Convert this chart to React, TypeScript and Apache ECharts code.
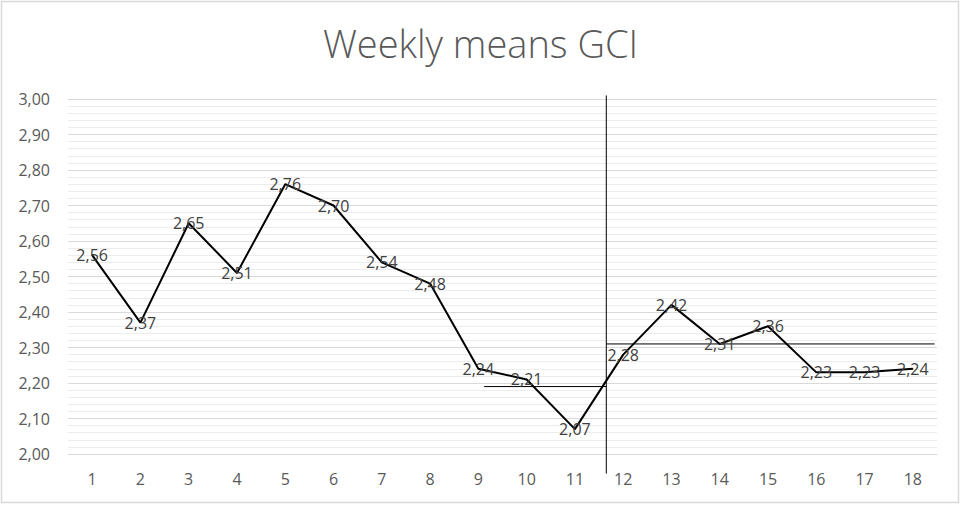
import React, { useEffect, useRef } from "react";
import * as echarts from "echarts";

const weeks = ["1","2","3","4","5","6","7","8","9","10","11","12","13","14","15","16","17","18"];
const gci = [2.56, 2.37, 2.65, 2.51, 2.76, 2.70, 2.54, 2.48, 2.24, 2.21, 2.07, 2.28, 2.42, 2.31, 2.36, 2.23, 2.23, 2.24];
// reference lines in week coordinates
const lowMeanLine: [number, number][] = [[9.12, 2.19], [11.65, 2.19]];
const highMeanLine: [number, number][] = [[11.65, 2.31], [18.45, 2.31]];
const breakLine: [number, number][] = [[11.65, 3.01], [11.65, 1.945]];

const fmt = (v: number) => v.toFixed(2).replace(".", ",");

export default function App() {
  const ref = useRef<HTMLDivElement>(null);
  useEffect(() => {
    document.body.style.margin = "0";
    const chart = echarts.init(ref.current!, null, { renderer: "svg" });
    const font = "'Open Sans', 'Liberation Sans', sans-serif";
    chart.setOption({
      animation: false,
      backgroundColor: "#ffffff",
      title: {
        text: "Weekly means GCI",
        left: "center",
        top: 19,
        textStyle: { fontFamily: font, fontWeight: 300, fontSize: 38, color: "#595959" },
      },
      grid: { left: 68, right: 24, top: 99, bottom: 51 },
      xAxis: [
        {
          type: "category",
          data: weeks,
          boundaryGap: true,
          axisLine: { show: true, lineStyle: { color: "#d9d9d9" } },
          axisTick: { show: false },
          axisLabel: { color: "#595959", fontSize: 16, fontFamily: font, margin: 17 },
          splitLine: { show: false },
        },
        {
          type: "value",
          min: 0.5,
          max: 18.5,
          show: false,
        },
      ],
      yAxis: {
        type: "value",
        min: 2,
        max: 3,
        interval: 0.1,
        axisLine: { show: false },
        axisTick: { show: false },
        axisLabel: { color: "#595959", fontSize: 16, fontFamily: font, margin: 18, formatter: (v: number) => fmt(v) },
        splitLine: { show: true, lineStyle: { color: "#d9d9d9", width: 1 } },
        minorTick: { show: false, splitNumber: 5 },
        minorSplitLine: { show: true, lineStyle: { color: "#ececec", width: 1 } },
      },
      series: [
        {
          type: "line",
          data: gci,
          symbol: "circle",
          symbolSize: 1,
          showSymbol: true,
          itemStyle: { color: "#000000" },
          lineStyle: { color: "#000000", width: 2 },
          label: {
            show: true,
            position: "inside",
            formatter: (p: any) => fmt(p.value),
            color: "#404040",
            fontSize: 16,
            fontFamily: font,
          },
          labelLayout: { hideOverlap: false },
          z: 5,
        },
        {
          type: "line",
          xAxisIndex: 1,
          data: lowMeanLine,
          symbol: "none",
          clip: false,
          lineStyle: { color: "#000000", width: 1 },
        },
        {
          type: "line",
          xAxisIndex: 1,
          data: highMeanLine,
          symbol: "none",
          clip: false,
          lineStyle: { color: "#000000", width: 1 },
        },
        {
          type: "line",
          xAxisIndex: 1,
          data: breakLine,
          symbol: "none",
          clip: false,
          lineStyle: { color: "#000000", width: 1 },
        },
      ],
      graphic: [
        {
          type: "rect",
          shape: { x: 1.5, y: 1.5, width: 957, height: 501 },
          style: { fill: "none", stroke: "#d9d9d9", lineWidth: 1.5 },
          silent: true,
        },
      ],
    });
    return () => chart.dispose();
  }, []);
  return <div ref={ref} style={{ width: 961, height: 505 }} />;
}
